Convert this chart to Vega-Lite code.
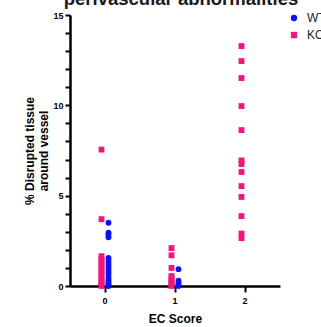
{
  "$schema": "https://vega.github.io/schema/vega-lite/v6.json",
  "width": 210,
  "height": 271,
  "autosize": "none",
  "padding": {"left": 70, "top": 15, "right": 41, "bottom": 41},
  "background": "white",
  "title": {"text": "perivascular abnormalities", "font": "Liberation Sans", "fontSize": 18.5, "fontWeight": "bold", "frame": "group", "offset": 0, "dy": -3, "anchor": "middle", "dx": 6, "color": "#1a1a1a"},
  "config": {"view": {"stroke": null}, "font": "Liberation Sans"},
  "data": {"values": [
    {"score": "0", "group": "KO", "pct": 0},
    {"score": "0", "group": "KO", "pct": 0.1},
    {"score": "0", "group": "KO", "pct": 0.2},
    {"score": "0", "group": "KO", "pct": 0.3},
    {"score": "0", "group": "KO", "pct": 0.45},
    {"score": "0", "group": "KO", "pct": 0.6},
    {"score": "0", "group": "KO", "pct": 0.75},
    {"score": "0", "group": "KO", "pct": 0.9},
    {"score": "0", "group": "KO", "pct": 1.05},
    {"score": "0", "group": "KO", "pct": 1.2},
    {"score": "0", "group": "KO", "pct": 1.35},
    {"score": "0", "group": "KO", "pct": 1.5},
    {"score": "0", "group": "KO", "pct": 1.65},
    {"score": "0", "group": "KO", "pct": 3.7},
    {"score": "0", "group": "KO", "pct": 7.55},
    {"score": "0", "group": "WT", "pct": 0},
    {"score": "0", "group": "WT", "pct": 0.1},
    {"score": "0", "group": "WT", "pct": 0.2},
    {"score": "0", "group": "WT", "pct": 0.3},
    {"score": "0", "group": "WT", "pct": 0.4},
    {"score": "0", "group": "WT", "pct": 0.55},
    {"score": "0", "group": "WT", "pct": 0.7},
    {"score": "0", "group": "WT", "pct": 0.85},
    {"score": "0", "group": "WT", "pct": 1.0},
    {"score": "0", "group": "WT", "pct": 1.15},
    {"score": "0", "group": "WT", "pct": 1.3},
    {"score": "0", "group": "WT", "pct": 1.45},
    {"score": "0", "group": "WT", "pct": 1.55},
    {"score": "0", "group": "WT", "pct": 2.7},
    {"score": "0", "group": "WT", "pct": 2.85},
    {"score": "0", "group": "WT", "pct": 2.95},
    {"score": "0", "group": "WT", "pct": 3.5},
    {"score": "1", "group": "KO", "pct": 0},
    {"score": "1", "group": "KO", "pct": 0.1},
    {"score": "1", "group": "KO", "pct": 0.2},
    {"score": "1", "group": "KO", "pct": 0.3},
    {"score": "1", "group": "KO", "pct": 0.45},
    {"score": "1", "group": "KO", "pct": 0.55},
    {"score": "1", "group": "KO", "pct": 1.0},
    {"score": "1", "group": "KO", "pct": 1.7},
    {"score": "1", "group": "KO", "pct": 2.1},
    {"score": "1", "group": "WT", "pct": 0},
    {"score": "1", "group": "WT", "pct": 0.1},
    {"score": "1", "group": "WT", "pct": 0.2},
    {"score": "1", "group": "WT", "pct": 0.3},
    {"score": "1", "group": "WT", "pct": 0.93},
    {"score": "2", "group": "KO", "pct": 13.28},
    {"score": "2", "group": "KO", "pct": 12.45},
    {"score": "2", "group": "KO", "pct": 11.51},
    {"score": "2", "group": "KO", "pct": 9.96},
    {"score": "2", "group": "KO", "pct": 8.63},
    {"score": "2", "group": "KO", "pct": 6.95},
    {"score": "2", "group": "KO", "pct": 6.75},
    {"score": "2", "group": "KO", "pct": 6.31},
    {"score": "2", "group": "KO", "pct": 5.53},
    {"score": "2", "group": "KO", "pct": 4.93},
    {"score": "2", "group": "KO", "pct": 3.87},
    {"score": "2", "group": "KO", "pct": 2.9},
    {"score": "2", "group": "KO", "pct": 2.65}
  ]},
  "mark": {"type": "point", "filled": true, "opacity": 1},
  "encoding": {
    "x": {"field": "score", "type": "ordinal", "sort": ["0", "1", "2"],
      "scale": {"paddingInner": 0, "paddingOuter": 0},
      "axis": {"title": "EC Score", "labelAngle": 0, "labelFont": "Liberation Sans", "labelFontWeight": "bold", "labelFontSize": 9, "labelColor": "black", "labelPadding": 4,
        "titleFont": "Liberation Sans", "titleFontWeight": "bold", "titleFontSize": 12, "titleColor": "black", "titlePadding": 8,
        "domainColor": "black", "domainWidth": 2.5, "tickColor": "black", "tickWidth": 2, "tickSize": 6, "grid": false}},
    "xOffset": {"field": "group", "type": "nominal", "scale": {"domain": ["KO", "WT"], "type": "point", "range": [28, 42]}},
    "y": {"field": "pct", "type": "quantitative", "scale": {"domain": [0, 15], "nice": false},
      "axis": {"title": ["% Disrupted tissue", "around vessel"], "values": [0,1,2,3,4,5,6,7,8,9,10,11,12,13,14,15],
        "labelExpr": "datum.value % 5 === 0 ? datum.label : ''",
        "labelFont": "Liberation Sans", "labelFontWeight": "bold", "labelFontSize": 9, "labelColor": "black", "labelPadding": 2,
        "titleFont": "Liberation Sans", "titleFontWeight": "bold", "titleFontSize": 12, "titleColor": "black", "titlePadding": 2, "titleLineHeight": 14,
        "domainColor": "black", "domainWidth": 2.5, "tickColor": "black", "tickWidth": 2, "tickSize": 5, "grid": false}},
    "color": {"field": "group", "type": "nominal", "scale": {"domain": ["WT", "KO"], "range": ["#0a14f0", "#f2167c"]},
      "legend": {"title": null, "orient": "none", "legendX": 218, "legendY": -3, "labelFont": "Liberation Sans", "labelFontSize": 12, "labelColor": "#222222", "rowPadding": 5, "symbolSize": 40, "labelOffset": 7}},
    "shape": {"field": "group", "type": "nominal", "scale": {"domain": ["WT", "KO"], "range": ["circle", "square"]}},
    "size": {"value": 34}
  }
}
